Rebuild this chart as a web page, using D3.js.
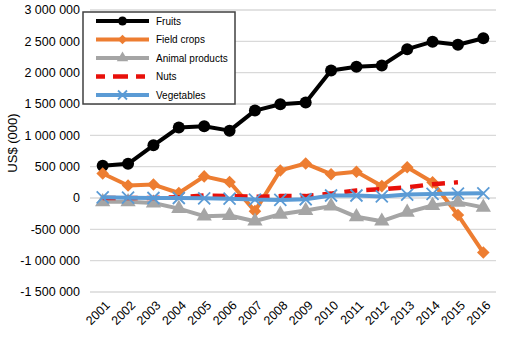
<!DOCTYPE html>
<html>
<head>
<meta charset="utf-8">
<script src="https://cdn.jsdelivr.net/npm/d3@7/dist/d3.min.js"></script>
<style>
  body { margin: 0; background: #fff; }
  text { font-family: "Liberation Sans", Arial, sans-serif; fill: #000; }
</style>
</head>
<body>
<div id="chart-area"></div>
<script>
var years = ["2001","2002","2003","2004","2005","2006","2007","2008",
             "2009","2010","2011","2012","2013","2014","2015","2016"];
var fruits = [515000, 545000, 840000, 1125000, 1145000, 1075000, 1395000, 1495000,
              1525000, 2035000, 2095000, 2115000, 2375000, 2495000, 2445000, 2550000];
var fieldCrops = [390000, 200000, 215000, 80000, 345000, 255000, -210000, 440000,
                  550000, 380000, 420000, 190000, 490000, 250000, -270000, -870000];
var animalProducts = [-60000, -60000, -80000, -170000, -290000, -280000, -370000, -260000,
                      -200000, -130000, -300000, -370000, -230000, -120000, -70000, -150000];
var nuts = [0, 0, 0, 10000, 40000, 30000, 20000, 30000,
            30000, 70000, 120000, 140000, 170000, 220000, 250000, null];
var vegetables = [10000, 5000, 0, 0, -5000, -10000, -25000, -30000,
                  -20000, 40000, 40000, 25000, 55000, 65000, 70000, 75000];
var yTicks = [-1500000, -1000000, -500000, 0, 500000, 1000000, 1500000, 2000000, 2500000, 3000000];

var series = [
  {name: "Fruits", values: fruits, color: "#000000", marker: "circle"},
  {name: "Field crops", values: fieldCrops, color: "#ED7D31", marker: "diamond"},
  {name: "Animal products", values: animalProducts, color: "#A5A5A5", marker: "triangle"},
  {name: "Nuts", values: nuts, color: "#E8100A", marker: "none", dash: "13,9"},
  {name: "Vegetables", values: vegetables, color: "#5B9BD5", marker: "x"}
];

var W = 508, H = 352;
var margin = {left: 90, right: 12, top: 10, bottom: 60};
var width = W - margin.left - margin.right;
var height = H - margin.top - margin.bottom;

var svg = d3.select("#chart-area").append("svg")
  .attr("width", W).attr("height", H);
var g = svg.append("g")
  .attr("transform", "translate(" + margin.left + "," + margin.top + ")");

var x = d3.scaleBand().domain(years).range([0, width]);
var y = d3.scaleLinear().domain([-1500000, 3000000]).range([height, 0]);

var fmt = function(d) {
  return d3.format(",")(d).replace(/,/g, " ").replace("−", "-");
};

// gridlines
g.selectAll(".grid").data(yTicks).enter().append("line")
  .attr("x1", 0).attr("x2", width)
  .attr("y1", d => y(d)).attr("y2", d => y(d))
  .attr("stroke", "#d9d9d9").attr("stroke-width", 1.3);

// y axis labels
g.selectAll(".ylab").data(yTicks).enter().append("text")
  .attr("x", -10).attr("y", d => y(d)).attr("dy", "0.35em")
  .attr("text-anchor", "end").attr("font-size", "12.5px")
  .text(fmt);

g.append("text")
  .attr("transform", "translate(" + (-73) + "," + (height / 2 - 8) + ") rotate(-90)")
  .attr("text-anchor", "middle").attr("font-size", "13px")
  .text("US$ (000)");

// x labels
g.selectAll(".xlab").data(years).enter().append("text")
  .attr("transform", d => "translate(" + (x(d) + x.bandwidth() / 2 + 5) + "," + (height + 11) + ") rotate(-45)")
  .attr("text-anchor", "end").attr("dy", "0.35em").attr("font-size", "12.5px")
  .text(d => d);

var cx = d => x(d) + x.bandwidth() / 2;

function drawMarker(sel, type, color, size) {
  if (type === "circle") {
    sel.append("circle").attr("r", size).attr("fill", color);
  } else if (type === "diamond") {
    sel.append("path").attr("d", d3.symbol(d3.symbolSquare, size * size * 2.2)())
      .attr("transform", "rotate(45)").attr("fill", color);
  } else if (type === "triangle") {
    sel.append("path").attr("d", d3.symbol(d3.symbolTriangle, size * size * 2.8)()).attr("fill", color);
  } else if (type === "x") {
    var s = size;
    sel.append("path").attr("d", "M" + (-s) + "," + (-s) + "L" + s + "," + s + "M" + (-s) + "," + s + "L" + s + "," + (-s))
      .attr("stroke", color).attr("stroke-width", 1.8).attr("fill", "none");
  }
}

var line = d3.line()
  .defined(d => d.v != null)
  .x(d => cx(d.year)).y(d => y(d.v));

series.forEach(function(s) {
  var pts = years.map((yr, i) => ({year: yr, v: s.values[i]}));
  var sg = g.append("g");
  sg.append("path").datum(pts)
    .attr("d", line)
    .attr("fill", "none")
    .attr("stroke", s.color)
    .attr("stroke-width", s.dash ? 4.5 : 4)
    .attr("stroke-linejoin", "round")
    .attr("stroke-dasharray", s.dash || null);
  if (s.marker !== "none") {
    pts.filter(d => d.v != null).forEach(function(d) {
      var m = sg.append("g").attr("transform", "translate(" + cx(d.year) + "," + y(d.v) + ")");
      drawMarker(m, s.marker, s.color, 6);
    });
  }
});

// legend
var lg = svg.append("g").attr("transform", "translate(83,12)");
lg.append("rect").attr("width", 152).attr("height", 92)
  .attr("fill", "#fff").attr("stroke", "#404040").attr("stroke-width", 1.5);
series.forEach(function(s, i) {
  var ly = 9 + i * 18.5;
  lg.append("line").attr("x1", 13).attr("x2", 66).attr("y1", ly).attr("y2", ly)
    .attr("stroke", s.color).attr("stroke-width", s.dash ? 4.5 : 4)
    .attr("stroke-dasharray", s.dash ? "9,8,15,8,9" : null);
  if (s.marker !== "none") {
    var m = lg.append("g").attr("transform", "translate(39.5," + ly + ")");
    drawMarker(m, s.marker, s.color, 4.5);
  }
  lg.append("text").attr("x", 73).attr("y", ly).attr("dy", "0.35em")
    .attr("font-size", "10px").text(s.name);
});
</script>
</body>
</html>
